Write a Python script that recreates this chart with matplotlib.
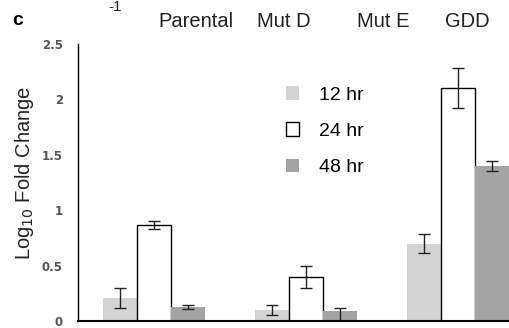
import numpy as np
import matplotlib
matplotlib.use('Agg')
import matplotlib.pyplot as plt

plt.rcParams['font.family'] = ['Liberation Sans', 'DejaVu Sans']

groups = ['Parental', 'Mut D', 'GDD']
top_labels = ['Parental', 'Mut D', 'Mut E', 'GDD']
series = ['12 hr', '24 hr', '48 hr']
vals_12 = [0.21, 0.10, 0.70]
vals_24 = [0.87, 0.40, 2.10]
vals_48 = [0.125, 0.09, 1.40]
err_12 = [0.09, 0.045, 0.09]
err_24 = [0.035, 0.10, 0.18]
err_48 = [0.02, 0.03, 0.045]

colors = ['#d4d4d4', 'white', '#a3a3a3']
edges = ['#d4d4d4', 'black', '#a3a3a3']

W, H = 510, 328
fig = plt.figure(figsize=(W / 100, H / 100), dpi=100)
ax = fig.add_axes([0.153, 0.021, 0.847, 0.845])

x = np.arange(len(groups))
w = 0.223
for i, (v, e) in enumerate(zip([vals_12, vals_24, vals_48], [err_12, err_24, err_48])):
    if i == 2:
        # Mut D 48 hr error bar runs down to zero
        yerr = np.array([[e[0], v[1], e[2]], e])
    else:
        yerr = e
    ax.bar(x + (i - 1) * w, v, w, color=colors[i], edgecolor=edges[i],
           linewidth=1.0 if i == 1 else 0, label=series[i],
           yerr=yerr, error_kw=dict(ecolor='#222222', elinewidth=1.0, capsize=4, capthick=1.0))

ax.set_xlim(-0.5, 2.342)
ax.set_ylim(0, 2.5)
ax.set_yticks([0, 0.5, 1, 1.5, 2, 2.5])
ax.set_yticklabels(['0', '0.5', '1', '1.5', '2', '2.5'], family='DejaVu Sans',
                   fontweight='bold', fontsize=8.5, color='#555555')
ax.set_xticks([])
ax.tick_params(axis='y', length=0, pad=11)
for s in ['top', 'right']:
    ax.spines[s].set_visible(False)
ax.spines['left'].set_linewidth(1.0)
ax.spines['bottom'].set_linewidth(1.5)

fig.text(25 / W, 1 - 173 / H, 'Log$_{10}$ Fold Change', fontsize=14.5, rotation=90,
         ha='center', va='center', color='#222222')

leg = ax.legend(loc='upper left', bbox_to_anchor=(0.44, 0.91), frameon=False, fontsize=14,
                handlelength=0.7, handleheight=0.7, labelspacing=0.95, handletextpad=1.0)

fig.text(12 / W, 1 - 25 / H, 'c', fontsize=14, fontweight='bold', va='baseline')
for lab, px in zip(top_labels, [196, 284, 383, 467]):
    fig.text(px / W, 1 - 27 / H, lab, fontsize=14.5, ha='center', va='baseline', color='#222222')
fig.text(115 / W, 1 - 11 / H, '-1', fontsize=11, ha='center', va='baseline', color='#222222')

fig.savefig('out.png', dpi=100)
